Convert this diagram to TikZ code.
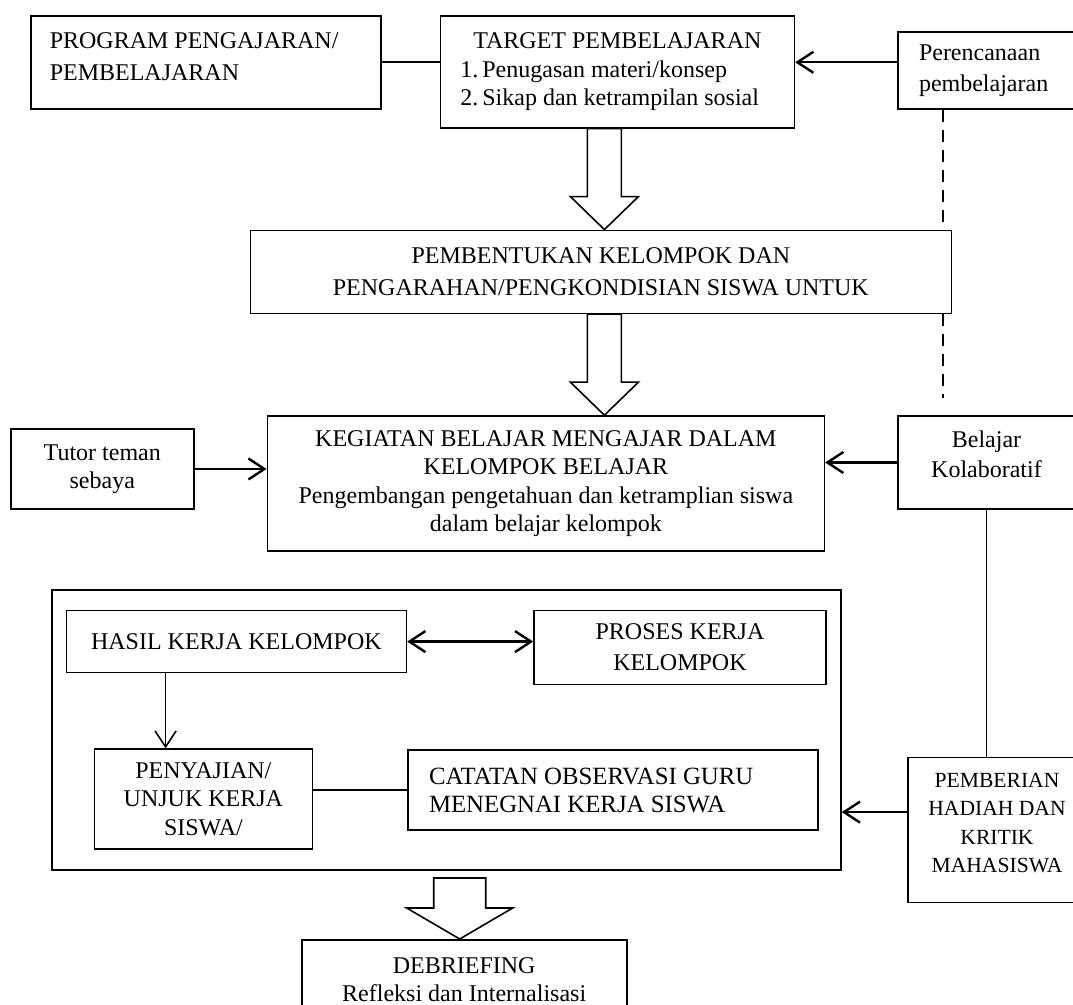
\documentclass[tikz,border=0pt]{standalone}
\usepackage{fontspec}
\setmainfont{Liberation Serif}
\usetikzlibrary{arrows.meta,positioning,fit}

\begin{document}
\begin{tikzpicture}[
  node distance=10pt,
  box/.style={draw, line width=0.8pt, align=center, inner sep=2pt,
              font=\fontsize{12pt}{14.2pt}\selectfont},
  lbox/.style={box, align=flush left, inner xsep=10pt},
  arr/.style={-{Straight Barb[length=8pt,width=10.5pt]}, line width=1.2pt},
  thinarr/.style={arr, line width=0.8pt},
  dbl/.style={{Straight Barb[length=8pt,width=10.5pt]}-{Straight Barb[length=8pt,width=10.5pt]}, line width=1.2pt},
  link/.style={line width=0.8pt},
  blk/.style={draw, line width=0.8pt, line join=miter}]
  \path[use as bounding box, fill=white] (0,0) rectangle (536.5pt,-502.5pt);
  \node[lbox, text width=156pt, inner xsep=9.5pt, minimum height=46.5pt, anchor=north west,
        font=\fontsize{12pt}{16pt}\selectfont] (prog) at (15pt,-7.5pt) {PROGRAM PENGAJARAN/\\PEMBELAJARAN\\[-10pt]\null};
  \node[lbox, text width=157pt, minimum height=56pt, right=29pt of prog.north east, anchor=north west] (target) {\makebox[\hsize]{TARGET PEMBELAJARAN}\\1.\,Penugasan materi/konsep\\2.\,Sikap dan ketrampilan sosial};
  \node[lbox, text width=67.5pt, inner xsep=10.5pt, minimum height=38.5pt, right=51pt of target.north east, anchor=north west, yshift=-8pt,
        font=\fontsize{12pt}{15.5pt}\selectfont] (plan) {Perencanaan\\pembelajaran};
  \node[box, minimum width=350.5pt, minimum height=41.5pt, below=50.5pt of target, xshift=-8.25pt,
        font=\fontsize{12pt}{16pt}\selectfont] (form) {PEMBENTUKAN KELOMPOK DAN\\PENGARAHAN/PENGKONDISIAN SISWA UNTUK};
  \node[box, minimum width=278.5pt, minimum height=67.5pt, below=50.5pt of form, xshift=-27.5pt] (kbm) {KEGIATAN BELAJAR MENGAJAR DALAM\\KELOMPOK BELAJAR\\Pengembangan pengetahuan dan ketramplian siswa\\dalam belajar kelompok};
  \node[box, minimum width=91.5pt, minimum height=40pt, left=36pt of kbm, yshift=7.25pt] (tutor) {Tutor teman\\sebaya};
  \node[box, minimum width=88.5pt, minimum height=46.5pt, right=36pt of kbm.north east, anchor=north west,
        font=\fontsize{12pt}{15pt}\selectfont] (kolab) {Belajar\\Kolaboratif\\[-7pt]\null};
  \node[box, minimum width=170pt, minimum height=31pt, below=29pt of kbm.south west, anchor=north west, xshift=-100.5pt] (hasil) {HASIL KERJA KELOMPOK};
  \node[box, minimum width=146pt, minimum height=37pt, right=63pt of hasil.north east, anchor=north west,
        font=\fontsize{12pt}{15.5pt}\selectfont] (proses) {PROSES KERJA\\KELOMPOK};
  \node[box, minimum width=109pt, minimum height=50pt, below=37.5pt of hasil.south west, anchor=north west, xshift=14pt] (saji) {PENYAJIAN/\\UNJUK KERJA\\SISWA/};
  \node[lbox, text width=184pt, inner xsep=10.5pt, minimum height=40pt, right=47pt of saji.north east, anchor=north west, yshift=-0.5pt,
        font=\fontsize{12.4pt}{14.2pt}\selectfont] (catat) {CATATAN OBSERVASI GURU\\MENEGNAI KERJA SISWA};
  \node[box, minimum width=89pt, minimum height=72.5pt, below=123.5pt of kolab.south west, anchor=north west, xshift=5pt,
        font=\fontsize{10.8pt}{14.2pt}\selectfont] (hadiah) {PEMBERIAN\\HADIAH DAN\\KRITIK\\MAHASISWA\\[-7pt]\null};
  \node[draw, line width=1pt, inner xsep=7pt, inner ysep=10pt, fit=(hasil)(proses)(saji)(catat)] (frame) {};
  \node[box, minimum width=162.5pt, minimum height=40pt, below=34pt of frame, xshift=9pt] (debrief) {DEBRIEFING\\Refleksi dan Internalisasi};
  % connectors
  \draw[link] (prog.east) -- (prog.east -| target.west);
  \draw[arr] (prog.east -| plan.west) -- (prog.east -| target.east);
  \coordinate (dtop) at ([xshift=23pt]plan.south west);
  \coordinate (dend) at ([yshift=8.5pt]dtop |- kbm.north);
  \draw[link, dash pattern=on 6pt off 4pt] (dtop) -- (dtop |- form.north) (dtop |- form.south) -- (dend);
  \draw[arr] (tutor.east) -- (tutor.east -| kbm.west);
  \draw[arr] (kolab.west) -- (kolab.west -| kbm.east);
  \draw[link] (kolab.south) -- (kolab.south |- hadiah.north);
  \draw[arr] ([yshift=9pt]hadiah.west) -- ([yshift=9pt]hadiah.west -| frame.east);
  \draw[dbl] (hasil.east) -- (hasil.east -| proses.west);
  \draw[thinarr] ([xshift=50pt]hasil.south west) -- ([xshift=50pt]hasil.south west |- saji.north);
  \draw[link] (catat.west) -- (catat.west -| saji.east);
  % block arrows
  \coordinate (t1) at ([xshift=1.75pt]form.north);
  \coordinate (t2) at (t1 |- kbm.north);
  \coordinate (t3) at ([xshift=-2.25pt]debrief.north);
  \draw[blk] (t1) -- ++(-17pt,16.5pt) -- ++(8.5pt,0) -- ++(0,34pt) -- ++(17pt,0) -- ++(0,-34pt) -- ++(8.5pt,0) -- cycle;
  \draw[blk] (t2) -- ++(-17pt,16.5pt) -- ++(8.5pt,0) -- ++(0,34pt) -- ++(17pt,0) -- ++(0,-34pt) -- ++(8.5pt,0) -- cycle;
  \draw[blk] (t3) -- ++(-26.5pt,15.5pt) -- ++(13.5pt,0) -- ++(0,15pt) -- ++(26pt,0) -- ++(0,-15pt) -- ++(13.5pt,0) -- cycle;
\end{tikzpicture}
\end{document}
